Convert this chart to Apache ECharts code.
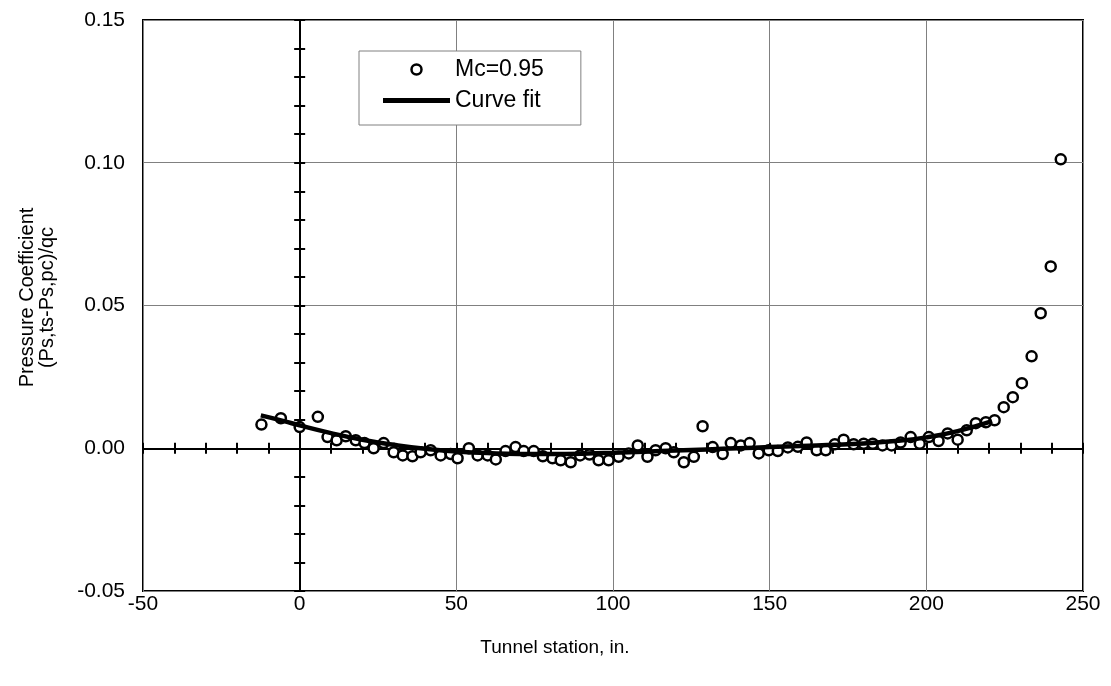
<!DOCTYPE html>
<html>
<head>
<meta charset="utf-8">
<script src="https://cdn.jsdelivr.net/npm/echarts@6/dist/echarts.min.js"></script>
<style>html,body{margin:0;padding:0;background:#fff;}#c{width:1111px;height:686px;}</style>
</head>
<body>
<div id="c"></div>
<script>
const xTicks = [-50, 0, 50, 100, 150, 200, 250];
const yTicks = [-0.05, 0, 0.05, 0.10, 0.15];

const measX = [-12.2, -6, 0, 5.8, 8.9, 11.8, 14.7, 17.9, 20.7, 23.6, 26.8, 30, 32.9, 36, 38.6, 41.8, 45, 48.2,
  50.4, 54, 56.8, 60, 62.6, 65.7, 68.9, 71.5, 74.7, 77.6, 80.7, 83.3, 86.5, 89.5, 92.5, 95.4, 98.6, 101.8, 105,
  107.9, 111, 113.6, 116.8, 119.4, 122.6, 125.8, 128.6, 131.8, 135, 137.6, 140.8, 143.6, 146.5, 149.7, 152.6,
  155.8, 159, 161.8, 165, 167.9, 170.8, 173.6, 176.8, 180, 182.9, 186, 188.9, 191.8, 195, 197.9, 200.8, 203.9,
  206.8, 210, 212.9, 215.8, 219, 221.8, 224.7, 227.6, 230.5, 233.6, 236.5, 239.7, 242.9];
const measY = [0.0083, 0.0105, 0.0074, 0.011, 0.0039, 0.0028, 0.0042, 0.0028, 0.0018, 0.0, 0.0018, -0.0014, -0.0025,
  -0.0028, -0.0014, -0.0007, -0.0025, -0.002, -0.0035, 0.0, -0.0025, -0.0025, -0.0039, -0.001, 0.0004, -0.001,
  -0.001, -0.0028, -0.0035, -0.0042, -0.0049, -0.0025, -0.0022, -0.0042, -0.0042, -0.003, -0.0018, 0.001, -0.003,
  -0.0007, 0.0, -0.0014, -0.0049, -0.003, 0.0077, 0.0004, -0.002, 0.0018, 0.001, 0.0018, -0.0018, -0.0007, -0.001,
  0.0003, 0.0005, 0.002, -0.0007, -0.0007, 0.0014, 0.003, 0.0014, 0.0016, 0.0016, 0.001, 0.001, 0.002, 0.0039,
  0.0016, 0.0039, 0.0025, 0.0052, 0.003, 0.0063, 0.0088, 0.0091, 0.0098, 0.0144, 0.0179, 0.0228, 0.0322, 0.0473,
  0.0637, 0.1012];

const fitX = [-12.4, -5, 0, 10, 20, 30, 40, 50, 60, 70, 80, 90, 100, 110, 120, 130, 140, 150, 160, 170, 180, 190, 200, 210, 221];
const fitY = [0.0115, 0.0095, 0.008, 0.0053, 0.003, 0.0012, -0.0002, -0.0011, -0.0017, -0.002, -0.002, -0.0019, -0.0016,
  -0.0012, -0.0008, -0.0004, 0.0, 0.0004, 0.0008, 0.0012, 0.0017, 0.0025, 0.0038, 0.006, 0.0095];

const seriesNames = ['Mc=0.95', 'Curve fit'];
const xName = 'Tunnel station, in.';
const yName = 'Pressure Coefficient\n(Ps,ts-Ps,pc)/qc';

const FONT = "'Liberation Sans', Arial, Helvetica, sans-serif";
const gridRect = { left: 143, right: 28, top: 20, bottom: 95 };
const xMin = xTicks[0], xMax = xTicks[xTicks.length - 1];
const yMin = yTicks[0], yMax = yTicks[yTicks.length - 1];

function zeroAxesX(gi, inside) {
  return {
    type: 'value', gridIndex: gi, min: xMin, max: xMax, interval: 10,
    axisLine: { show: true, onZero: true, lineStyle: { color: '#000', width: 2 } },
    axisTick: { show: true, inside: inside, length: 5.5, lineStyle: { color: '#000', width: 2 } },
    axisLabel: { show: false }, splitLine: { show: false }
  };
}
function zeroAxesY(gi, inside) {
  return {
    type: 'value', gridIndex: gi, min: yMin, max: yMax, interval: 0.01,
    axisLine: { show: true, onZero: true, lineStyle: { color: '#000', width: 2 } },
    axisTick: { show: true, inside: inside, length: 5.5, lineStyle: { color: '#000', width: 2 } },
    axisLabel: { show: false }, splitLine: { show: false }
  };
}

const chart = echarts.init(document.getElementById('c'), null, { renderer: 'canvas' });
chart.setOption({
  animation: false,
  backgroundColor: '#fff',
  textStyle: { fontFamily: FONT },
  grid: [
    Object.assign({ show: true, borderColor: '#000', borderWidth: 2, backgroundColor: 'transparent' }, gridRect),
    Object.assign({}, gridRect),
    Object.assign({}, gridRect)
  ],
  xAxis: [
    {
      type: 'value', gridIndex: 0, min: xMin, max: xMax, interval: 50,
      name: xName, nameLocation: 'middle', nameGap: 47,
      nameTextStyle: { fontSize: 19, color: '#000', fontFamily: FONT, padding: [0, 116, 0, 0] },
      axisLine: { show: false, onZero: false }, axisTick: { show: false },
      axisLabel: { fontSize: 21, color: '#000', margin: 3, fontFamily: FONT },
      splitLine: { show: true, lineStyle: { color: '#808080', width: 1 } }
    },
    zeroAxesX(1, false),
    zeroAxesX(2, true)
  ],
  yAxis: [
    {
      type: 'value', gridIndex: 0, min: yMin, max: yMax, interval: 0.05,
      name: yName, nameLocation: 'middle', nameGap: 86, nameRotate: 90,
      nameTextStyle: { fontSize: 20, color: '#000', lineHeight: 20, align: 'center', fontFamily: FONT, padding: [0, 0, 0, 16] },
      axisLine: { show: false, onZero: false }, axisTick: { show: false },
      axisLabel: { fontSize: 21, color: '#000', margin: 18, fontFamily: FONT, formatter: v => v.toFixed(2) },
      splitLine: { show: true, lineStyle: { color: '#808080', width: 1 } }
    },
    zeroAxesY(1, false),
    zeroAxesY(2, true)
  ],
  legend: {
    orient: 'vertical', left: 359, top: 51,
    backgroundColor: '#fff', borderColor: '#808080', borderWidth: 1,
    padding: [6, 37, 12, 24],
    itemWidth: 67, itemHeight: 10, itemGap: 6,
    textStyle: { fontSize: 23, color: '#000', lineHeight: 25, fontFamily: FONT },
    data: [
      { name: seriesNames[0], icon: 'circle', itemStyle: { color: '#fff', borderColor: '#000', borderWidth: 2.5 } },
      { name: seriesNames[1], icon: 'path://M0,0 L67,0 L67,5 L0,5 Z', itemStyle: { color: '#000', borderWidth: 0 } }
    ]
  },
  series: [
    {
      name: seriesNames[0], type: 'scatter', xAxisIndex: 0, yAxisIndex: 0,
      symbol: 'circle', symbolSize: 10,
      itemStyle: { color: '#fff', borderColor: '#000', borderWidth: 2.5, opacity: 1 },
      data: measX.map((x, i) => [x, measY[i]]), z: 3
    },
    {
      name: seriesNames[1], type: 'line', xAxisIndex: 0, yAxisIndex: 0,
      smooth: true, showSymbol: false, symbol: 'none',
      lineStyle: { color: '#000', width: 4.5 }, itemStyle: { color: '#000' },
      data: fitX.map((x, i) => [x, fitY[i]]), z: 4
    }
  ]
});
</script>
</body>
</html>
